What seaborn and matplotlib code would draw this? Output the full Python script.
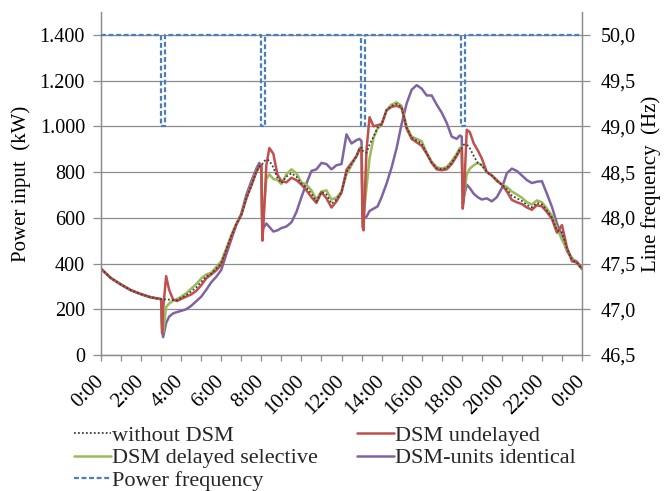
import matplotlib
matplotlib.use("Agg")
import matplotlib.pyplot as plt
from matplotlib.ticker import FixedLocator, FuncFormatter, MultipleLocator
import numpy as np
import pandas as pd
import seaborn as sns

# Time of day in hours (denser samples around the frequency events)
hours = [
    0, 0.5, 1, 1.5, 2, 2.5, 2.9, 3.0, 3.05, 3.1,
    3.25, 3.4, 3.6, 3.8, 4.0, 4.25, 4.5, 4.75, 5.0, 5.25,
    5.5, 5.75, 6.0, 6.25, 6.5, 6.75, 7.0, 7.25, 7.5, 7.75,
    7.9, 8.0, 8.05, 8.1, 8.25, 8.4, 8.6, 8.8, 9.0, 9.25,
    9.5, 9.75, 10.0, 10.25, 10.5, 10.75, 11.0, 11.25, 11.5, 11.75,
    12.0, 12.25, 12.5, 12.75, 12.9, 13.0, 13.05, 13.1, 13.25, 13.4,
    13.6, 13.8, 14.0, 14.25, 14.5, 14.75, 15.0, 15.25, 15.5, 15.75,
    16.0, 16.25, 16.5, 16.75, 17.0, 17.25, 17.5, 17.75, 17.9, 18.0,
    18.05, 18.1, 18.25, 18.4, 18.6, 18.8, 19.0, 19.25, 19.5, 19.75,
    20.0, 20.25, 20.5, 20.75, 21.0, 21.25, 21.5, 21.75, 22.0, 22.25,
    22.5, 22.75, 23.0, 23.25, 23.5, 23.75, 24.0,
]

# Power input in kW
without_dsm = [
    377, 336, 308, 283, 266, 252, 246, 244, 244, 243,
    243, 242, 240, 240, 250, 262, 278, 295, 320, 343,
    356, 378, 402, 460, 520, 572, 613, 685, 742, 802,
    825, 830, 835, 845, 855, 850, 820, 775, 752, 780,
    795, 780, 750, 732, 705, 672, 713, 702, 662, 680,
    712, 800, 835, 870, 902, 908, 895, 890, 885, 920,
    955, 995, 1008, 1071, 1090, 1098, 1085, 995, 950, 938,
    925, 882, 842, 817, 812, 817, 842, 875, 900, 905,
    915, 920, 920, 905, 870, 840, 830, 800, 785, 762,
    745, 725, 697, 685, 674, 656, 646, 665, 659, 632,
    602, 545, 537, 465, 418, 402, 377,
]

dsm_undelayed = [
    377, 336, 308, 283, 266, 252, 246, 244, 95, 200,
    345, 285, 242, 236, 245, 255, 265, 280, 305, 335,
    352, 370, 395, 455, 515, 570, 612, 685, 740, 800,
    825, 830, 500, 560, 830, 905, 880, 790, 760, 755,
    775, 765, 745, 720, 690, 665, 712, 685, 645, 672,
    710, 810, 840, 870, 900, 905, 560, 545, 900, 1040,
    1000, 1005, 1010, 1070, 1085, 1090, 1080, 990, 945, 930,
    915, 880, 840, 812, 808, 812, 835, 870, 895, 900,
    640, 680, 985, 975, 925, 895, 860, 800, 785, 765,
    745, 715, 678, 668, 660, 645, 635, 655, 650, 625,
    595, 535, 568, 470, 410, 405, 378,
]

dsm_delayed_selective = [
    377, 336, 308, 283, 266, 252, 246, 244, 120, 100,
    210, 225, 238, 245, 255, 270, 290, 310, 335, 352,
    360, 385, 410, 465, 525, 575, 615, 685, 745, 805,
    825, 828, 560, 600, 770, 790, 770, 765, 748, 790,
    812, 795, 755, 745, 720, 680, 715, 720, 680, 688,
    715, 790, 830, 870, 905, 910, 620, 600, 735, 860,
    950, 990, 1005, 1072, 1095, 1105, 1090, 1000, 955, 945,
    935, 885, 845, 822, 815, 822, 848, 880, 905, 910,
    700, 690, 790, 815, 830, 840, 830, 800, 785, 760,
    745, 735, 715, 702, 688, 668, 658, 676, 668, 640,
    610, 555, 505, 460, 425, 400, 375,
]

dsm_units_identical = [
    377, 336, 308, 283, 266, 252, 246, 244, 110, 78,
    140, 168, 182, 188, 193, 200, 215, 235, 255, 285,
    318, 342, 372, 440, 505, 570, 618, 700, 760, 815,
    840, 820, 550, 555, 575, 560, 540, 545, 555, 562,
    580, 625, 690, 750, 805, 812, 840, 835, 812, 830,
    835, 965, 925, 940, 945, 935, 610, 600, 605, 630,
    640, 650, 690, 750, 820, 905, 1010, 1100, 1160, 1180,
    1165, 1135, 1135, 1095, 1060, 1015, 955, 945, 960, 955,
    660, 690, 745, 730, 705, 690, 680, 685, 672, 690,
    730, 795, 815, 805, 785, 765, 752, 758, 760, 705,
    648, 575, 520, 455, 420, 408, 378,
]

# Line frequency in Hz (step drops to 49 Hz)
freq_hours = [0, 2.98, 2.98, 3.18, 3.18, 7.98, 7.98, 8.18, 8.18,
              12.98, 12.98, 13.18, 13.18, 17.98, 17.98, 18.18, 18.18, 24]
freq_hz = [50.0, 50.0, 49.0, 49.0, 50.0, 50.0, 49.0, 49.0, 50.0,
           50.0, 49.0, 49.0, 50.0, 50.0, 49.0, 49.0, 50.0, 50.0]

x_tick_labels = ["0:00", "2:00", "4:00", "6:00", "8:00", "10:00", "12:00",
                 "14:00", "16:00", "18:00", "20:00", "22:00", "0:00"]

series_names = ["without DSM", "DSM undelayed", "DSM delayed selective",
                "DSM-units identical"]
series_values = [without_dsm, dsm_undelayed, dsm_delayed_selective,
                 dsm_units_identical]

sns.set_theme(style="white")
plt.rcParams["font.family"] = ["Liberation Serif", "DejaVu Serif"]

grid_col = "#8c8c8c"
text_col = "#000000"

fig = plt.figure(figsize=(6.65, 4.91), dpi=100)
ax = fig.add_axes([101 / 665, 1 - 355 / 491, (582 - 101) / 665, (355 - 12) / 491])
ax2 = ax.twinx()

frames = []
for name, vals in zip(series_names, series_values):
    frames.append(pd.DataFrame({"hour": hours, "kW": vals, "series": name}))
power = pd.concat(frames, ignore_index=True)

styles = {
    "without DSM": dict(color="#404040", lw=1.3, ls=(0, (1, 1.2))),
    "DSM undelayed": dict(color="#c0504d", lw=1.8, ls="-"),
    "DSM delayed selective": dict(color="#9bbb59", lw=1.8, ls="-"),
    "DSM-units identical": dict(color="#8064a2", lw=1.8, ls="-"),
}

# draw order: dotted reference on top of the coloured curves
draw_order = ["DSM-units identical", "DSM delayed selective", "DSM undelayed",
              "without DSM"]
handles = {}
for name in draw_order:
    st = styles[name]
    sub = power[power["series"] == name]
    sns.lineplot(data=sub, x="hour", y="kW", ax=ax, estimator=None, sort=False,
                 color=st["color"], linewidth=st["lw"], linestyle=st["ls"],
                 legend=False, zorder=3)
    handles[name] = ax.get_lines()[-1]

freq = pd.DataFrame({"hour": freq_hours, "Hz": freq_hz})
sns.lineplot(data=freq, x="hour", y="Hz", ax=ax2, estimator=None, sort=False,
             color="#4a7ebb", linewidth=1.6, linestyle=(0, (2.2, 1.2)),
             legend=False, zorder=4)
handles["Power frequency"] = ax2.get_lines()[-1]

# left axis
ax.set_xlim(0, 24)
ax.set_ylim(0, 1500)
ax.yaxis.set_major_locator(FixedLocator(np.arange(0, 1401, 200)))
ax.yaxis.set_major_formatter(FuncFormatter(lambda v, p: f"{int(v):,}".replace(",", ".")))
ax.xaxis.set_major_locator(FixedLocator(np.arange(0, 25, 2)))
ax.xaxis.set_minor_locator(MultipleLocator(1))
ax.set_xticklabels(x_tick_labels, rotation=45, ha="right", va="center",
                   rotation_mode="anchor")
ax.grid(axis="y", color=grid_col, lw=0.9)
ax.set_axisbelow(True)

# right axis
ax2.set_ylim(46.5, 50.25)
ax2.yaxis.set_major_locator(FixedLocator(np.arange(46.5, 50.01, 0.5)))
ax2.yaxis.set_major_formatter(FuncFormatter(lambda v, p: f"{v:.1f}".replace(".", ",")))
ax2.grid(False)

for a in (ax, ax2):
    for side in ("left", "right", "bottom"):
        a.spines[side].set_color(grid_col)
        a.spines[side].set_linewidth(0.9)
    a.spines["top"].set_visible(False)

ax.tick_params(axis="y", which="major", direction="out", length=5.5, width=0.9,
               color=grid_col, labelsize=14.5, labelcolor=text_col, pad=6, left=True)
ax.tick_params(axis="x", which="both", direction="out", length=4, width=0.9,
               color=grid_col, labelsize=15, labelcolor=text_col, pad=13, bottom=True)
ax2.tick_params(axis="y", direction="out", length=5.5, width=0.9, color=grid_col,
                labelsize=14.5, labelcolor=text_col, pad=8, right=True)

ax.set_xlabel("")
ax.set_ylabel("Power input  (kW)", fontsize=15, color=text_col, labelpad=6)
ax2.set_ylabel("Line frequency  (Hz)", fontsize=15, color=text_col, labelpad=4)

legend_order = ["without DSM", "DSM delayed selective", "Power frequency",
                "DSM undelayed", "DSM-units identical"]
fig.legend([handles[n] for n in legend_order], legend_order,
           loc="upper left", bbox_to_anchor=(74 / 665, 1 - 425 / 491),
           ncol=2, frameon=False, fontsize=16, handlelength=1.67,
           handletextpad=0.05, columnspacing=1.75, labelspacing=0.1,
           borderpad=0, borderaxespad=0)

fig.savefig("out.png", dpi=100)
